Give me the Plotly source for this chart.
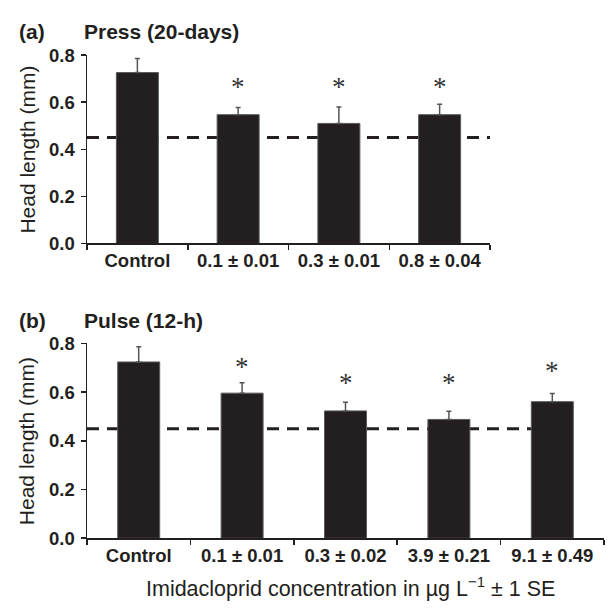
import plotly.graph_objects as go

# ---------------- data ----------------
press_categories = ["Control", "0.1 ± 0.01", "0.3 ± 0.01", "0.8 ± 0.04"]
press_means = [0.726, 0.547, 0.510, 0.547]
press_upper = [0.786, 0.577, 0.580, 0.591]          # mean + 1 SE
press_star_y = [None, 0.696, 0.696, 0.696]           # significance asterisks

pulse_categories = ["Control", "0.1 ± 0.01", "0.3 ± 0.02", "3.9 ± 0.21", "9.1 ± 0.49"]
pulse_means = [0.724, 0.596, 0.523, 0.488, 0.561]
pulse_upper = [0.787, 0.639, 0.559, 0.522, 0.595]
pulse_star_y = [None, 0.733, 0.666, 0.665, 0.715]

reference_head_length = 0.45
y_ticks = [0.0, 0.2, 0.4, 0.6, 0.8]

# ---------------- styling ----------------
W, H = 608, 611
BAR = "#231f20"
AX = "#231f20"
BOLD = "Liberation Sans, Arial, sans-serif"
tick_font = dict(family=BOLD, size=18.5, color="#231f20", weight="bold")
title_font = dict(family=BOLD, size=21, color="#231f20", weight="bold")
reg_font = dict(family=BOLD, size=21, color="#231f20")


def px_x(p):
    return p / W


def px_y(p):
    return 1 - p / H


fig = go.Figure()


def add_panel(cats, means, upper, stars, xa, ya, width):
    fig.add_trace(go.Bar(
        x=cats, y=means, width=width,
        marker=dict(color=BAR, line=dict(color="#5a5a5a", width=1)),
        error_y=dict(type="data", symmetric=False,
                     array=[u - m for u, m in zip(upper, means)],
                     arrayminus=[0] * len(means),
                     color="#555555", thickness=1.5, width=2.5),
        xaxis=xa, yaxis=ya, showlegend=False, hoverinfo="skip"))
    for c, s in zip(cats, stars):
        if s is None:
            continue
        fig.add_annotation(x=c, y=s, xref=xa, yref=ya, text="*",
                           showarrow=False, yanchor="middle", yshift=-7,
                           font=dict(family="Liberation Serif, Times New Roman, serif",
                                     size=27, color="#333333"))


add_panel(press_categories, press_means, press_upper, press_star_y, "x", "y", 0.417)
add_panel(pulse_categories, pulse_means, pulse_upper, pulse_star_y, "x2", "y2", 0.406)


def xaxis(dom, n, anchor):
    return dict(type="category", domain=dom, anchor=anchor, range=[-0.5, n - 0.5],
                showline=True, linecolor=AX, linewidth=1.5, mirror=False,
                ticks="outside", tickson="boundaries", ticklen=5, tickwidth=1.5,
                tickcolor=AX, tickfont=tick_font, showgrid=False, zeroline=False,
                fixedrange=True)


def yaxis(dom, anchor):
    return dict(domain=dom, anchor=anchor, range=[0, 0.8], tickvals=y_ticks,
                tickformat=".1f", showline=True, linecolor=AX, linewidth=1.5,
                ticks="outside", ticklen=5, tickwidth=1.5, tickcolor=AX,
                ticklabelstandoff=2,
                tickfont=tick_font, showgrid=False, zeroline=False, fixedrange=True)


fig.update_layout(
    width=W, height=H,
    margin=dict(l=0, r=0, t=0, b=0),
    paper_bgcolor="white", plot_bgcolor="white",
    bargap=0,
    xaxis=xaxis([px_x(87), px_x(490)], len(press_categories), "y"),
    yaxis=yaxis([px_y(240.7), px_y(45.7)], "x"),
    xaxis2=xaxis([px_x(87), px_x(604)], len(pulse_categories), "y2"),
    yaxis2=yaxis([px_y(546), px_y(344.3)], "x2"),
)

# dashed reference lines (drawn beneath the bars)
fig.add_shape(type="line", xref="x", yref="y", x0=-0.5, x1=3.64,
              y0=reference_head_length, y1=reference_head_length,
              line=dict(color=AX, width=3, dash="12px,8px"), layer="below")
fig.add_shape(type="line", xref="x2", yref="y2", x0=-0.5, x1=4.0,
              y0=reference_head_length, y1=reference_head_length,
              line=dict(color=AX, width=3, dash="12px,8px"), layer="below")

# panel labels and titles
for lab, ttl, yy in [("(a)", "Press (20-days)", 21.7), ("(b)", "Pulse (12-h)", 320)]:
    fig.add_annotation(x=px_x(32), y=px_y(yy), xref="paper", yref="paper", text=lab,
                       showarrow=False, xanchor="center", yanchor="middle", font=title_font)
    fig.add_annotation(x=px_x(81.7), y=px_y(yy), xref="paper", yref="paper", text=ttl,
                       showarrow=False, xanchor="left", yanchor="middle", font=title_font)

# axis titles
for yc in [(45.7 + 240.7) / 2, (344.3 + 546) / 2]:
    fig.add_annotation(x=px_x(27.3), y=px_y(yc), xref="paper", yref="paper",
                       text="Head length (mm)", textangle=-90, showarrow=False,
                       xanchor="center", yanchor="middle", font=reg_font)

fig.add_annotation(x=px_x(350), y=px_y(596.7), xref="paper", yref="paper",
                   text="Imidacloprid concentration in µg L<sup>−1</sup> ± 1 SE",
                   showarrow=False, xanchor="center", yanchor="middle",
                   font=dict(family=BOLD, size=21.5, color="#231f20"))

fig.write_html("out.html", config={"displayModeBar": False, "staticPlot": True},
               post_script="document.body.style.margin='0';document.body.style.overflow='hidden';")
